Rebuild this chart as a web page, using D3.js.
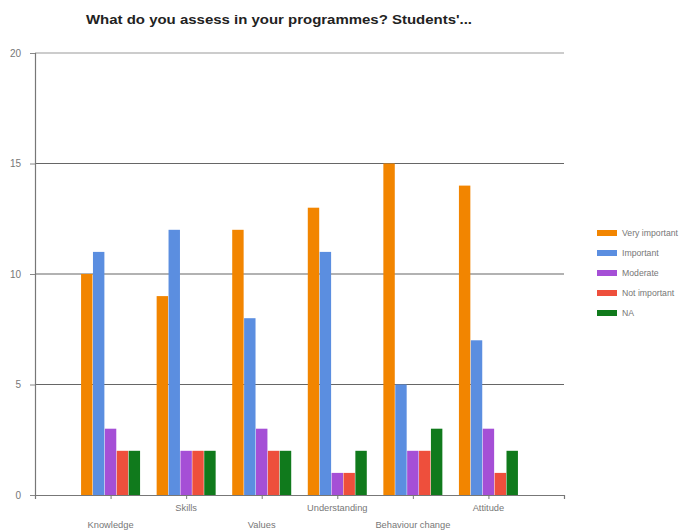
<!DOCTYPE html>
<html>
<head>
<meta charset="utf-8">
<script src="https://cdn.jsdelivr.net/npm/d3@7"></script>
<style>
  html, body { margin: 0; padding: 0; background: #fff; }
  svg { display: block; font-family: "Liberation Sans", Arial, sans-serif; }
</style>
</head>
<body>
<svg id="chart" width="692" height="530"></svg>
<script>
// Survey answers: how important each outcome is when assessing programmes
const categories = ["Knowledge", "Skills", "Values", "Understanding", "Behaviour change", "Attitude"];
const seriesNames = ["Very important", "Important", "Moderate", "Not important", "NA"];
const veryImportant = [10, 9, 12, 13, 15, 14];
const important     = [11, 12, 8, 11, 5, 7];
const moderate      = [3, 2, 3, 1, 2, 3];
const notImportant  = [2, 2, 2, 1, 2, 1];
const notApplicable = [2, 2, 2, 2, 3, 2];
const yTicks = [0, 5, 10, 15, 20];
const colors = ["#f28500", "#5b8ee0", "#a54fd6", "#ee4f3c", "#107a1c"];

const series = [veryImportant, important, moderate, notImportant, notApplicable];

const svg = d3.select("#chart");
const plotLeft = 35, plotRight = 564, plotTop = 53, plotBottom = 495;

const y = d3.scaleLinear().domain([0, 20]).range([plotBottom, plotTop]);
const x = d3.scalePoint().domain(categories).range([plotLeft, plotRight]).padding(1);
const groupW = 59;
const xs = d3.scaleBand().domain(d3.range(seriesNames.length)).range([-groupW / 2, groupW / 2]).paddingInner(0.04);

// Title
svg.append("text")
  .attr("x", 86).attr("y", 24)
  .attr("font-size", 12.5).attr("font-weight", "bold").attr("fill", "#222")
  .attr("textLength", 386).attr("lengthAdjust", "spacingAndGlyphs")
  .text("What do you assess in your programmes? Students'...");

// Horizontal gridlines
svg.append("g").selectAll("line").data(yTicks.filter(d => d > 0)).join("line")
  .attr("x1", plotLeft).attr("x2", plotRight)
  .attr("y1", d => y(d)).attr("y2", d => y(d))
  .attr("stroke", d => d === 20 ? "#999" : "#666").attr("stroke-width", 1.2);

// Bars
const groups = svg.append("g").selectAll("g").data(categories).join("g")
  .attr("transform", c => `translate(${x(c)},0)`);
groups.selectAll("rect")
  .data((c, ci) => series.map((s, si) => ({ si, v: s[ci] })))
  .join("rect")
  .attr("x", d => xs(d.si))
  .attr("width", xs.bandwidth())
  .attr("y", d => y(d.v))
  .attr("height", d => y(0) - y(d.v))
  .attr("fill", d => colors[d.si]);

// Y axis
const yAxis = d3.axisLeft(y).tickValues(yTicks).tickSize(5).tickPadding(9);
const gy = svg.append("g").attr("transform", `translate(${plotLeft},0)`).call(yAxis);
gy.select(".domain").attr("stroke", "#777").attr("stroke-width", 1.2);
gy.selectAll(".tick line").attr("stroke", "#888");
gy.selectAll(".tick text").attr("fill", "#777").attr("font-size", 10).attr("font-family", "Liberation Sans, Arial, sans-serif");

// X axis
const xAxis = d3.axisBottom(x).tickSize(4).tickFormat("");
const gx = svg.append("g").attr("transform", `translate(0,${plotBottom})`).call(xAxis);
gx.select(".domain").attr("stroke", "#777").attr("stroke-width", 1.2);
gx.selectAll(".tick line").attr("stroke", "#777");

// Category labels, alternating rows
svg.append("g").selectAll("text").data(categories).join("text")
  .attr("x", c => x(c))
  .attr("y", (c, i) => i % 2 === 0 ? 528 : 511)
  .attr("text-anchor", "middle")
  .attr("font-size", 9.3).attr("fill", "#777")
  .text(c => c);

// Legend
const legend = svg.append("g").attr("transform", "translate(597,233)");
const items = legend.selectAll("g").data(seriesNames).join("g")
  .attr("transform", (d, i) => `translate(0,${i * 20})`);
items.append("rect").attr("x", 0).attr("y", -3).attr("width", 20).attr("height", 6)
  .attr("fill", (d, i) => colors[i]);
items.append("text").attr("x", 25).attr("y", 3)
  .attr("font-size", 8.7).attr("fill", "#777").text(d => d);
</script>
</body>
</html>
